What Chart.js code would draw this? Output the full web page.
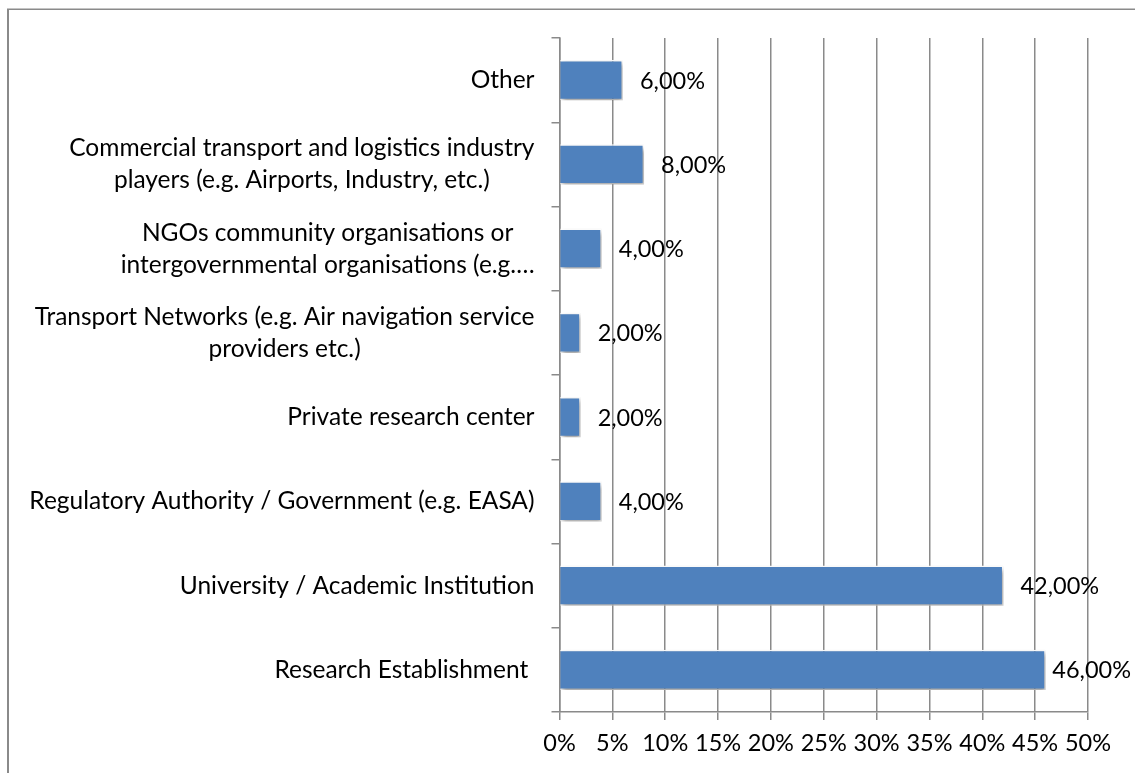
<!DOCTYPE html>
<html>
<head>
<meta charset="utf-8">
<script src="https://cdn.jsdelivr.net/npm/chart.js@4.4.1/dist/chart.umd.min.js"></script>
<style>
  html, body { margin: 0; padding: 0; background: #fff; }
  #wrap { position: relative; width: 1135px; height: 773px; }
</style>
</head>
<body>
<div id="wrap"><canvas id="c" width="1135" height="773"></canvas></div>
<script>
// ---- data ----
const categories = [
  ["Other"],
  ["Commercial transport and logistics industry", "players (e.g. Airports, Industry, etc.)"],
  ["NGOs community organisations or", "intergovernmental organisations (e.g.…"],
  ["Transport Networks (e.g. Air navigation service", "providers etc.)"],
  ["Private research center"],
  ["Regulatory Authority / Government (e.g. EASA)"],
  ["University / Academic Institution"],
  ["Research Establishment "]
];
const shares = [6, 8, 4, 2, 2, 4, 42, 46];
const dataLabels = ["6,00%", "8,00%", "4,00%", "2,00%", "2,00%", "4,00%", "42,00%", "46,00%"];
const xTickLabels = ["0%", "5%", "10%", "15%", "20%", "25%", "30%", "35%", "40%", "45%", "50%"];

const FONT = "Lato, 'Liberation Sans', sans-serif";
const CAT_SIZE = 24.5;
const NUM_SIZE = 23.5;
const GRID = '#8a8a8a';

const framePlugin = {
  id: 'frame',
  beforeDraw(chart) {
    const ctx = chart.ctx;
    ctx.save();
    ctx.strokeStyle = '#8a8a8a';
    ctx.lineWidth = 2;
    ctx.beginPath();
    ctx.moveTo(8, 9); ctx.lineTo(8, 773);
    ctx.stroke();
    ctx.lineWidth = 1.5;
    ctx.beginPath();
    ctx.moveTo(7, 9.25); ctx.lineTo(1135, 9.25);
    ctx.stroke();
    ctx.restore();
  }
};

const shadowPlugin = {
  id: 'barShadow',
  beforeDatasetDraw(chart) {
    const ctx = chart.ctx;
    ctx.save();
    ctx.shadowColor = 'rgba(0,0,0,0.38)';
    ctx.shadowBlur = 5;
    ctx.shadowOffsetX = 2;
    ctx.shadowOffsetY = 3;
  },
  afterDatasetDraw(chart) {
    chart.ctx.restore();
  }
};

const labelPlugin = {
  id: 'labels',
  afterDatasetsDraw(chart) {
    const ctx = chart.ctx;
    const yScale = chart.scales.y;
    const meta = chart.getDatasetMeta(0);
    ctx.save();
    ctx.fillStyle = '#000';
    ctx.textBaseline = 'middle';
    ctx.font = CAT_SIZE + 'px ' + FONT;
    const rightEdge = yScale.right - 25;
    const lineH = 32;
    categories.forEach((lines, i) => {
      const cy = yScale.getPixelForValue(i);
      const w = Math.max(...lines.map(l => ctx.measureText(l).width));
      const cx = rightEdge - w / 2;
      ctx.textAlign = 'center';
      lines.forEach((l, j) => {
        const y = cy + (j - (lines.length - 1) / 2) * lineH;
        ctx.fillText(l, cx, y);
      });
    });
    ctx.font = NUM_SIZE + 'px ' + FONT;
    ctx.textAlign = 'left';
    meta.data.forEach((bar, i) => {
      const t = dataLabels[i];
      const w = ctx.measureText(t).width;
      let x = bar.x + 17;
      if (x + w > chart.width - 4) x = chart.width - 4 - w;
      ctx.fillText(t, x, bar.y + 1);
    });
    ctx.restore();
  }
};

new Chart(document.getElementById('c'), {
  type: 'bar',
  data: {
    labels: categories,
    datasets: [{
      data: shares,
      backgroundColor: '#4F81BD',
      borderColor: '#ffffff',
      borderWidth: 1.5,
      barPercentage: 0.48,
      categoryPercentage: 1.0
    }]
  },
  options: {
    indexAxis: 'y',
    responsive: false,
    animation: false,
    events: [],
    layout: { padding: { left: 0, right: 47, top: 38, bottom: 0 } },
    plugins: { legend: { display: false }, tooltip: { enabled: false } },
    scales: {
      x: {
        min: 0, max: 50,
        ticks: {
          stepSize: 5,
          color: '#000',
          font: { family: FONT, size: NUM_SIZE },
          padding: 9,
          maxRotation: 0,
          autoSkip: false,
          callback: (v, i) => xTickLabels[i]
        },
        grid: { color: GRID, lineWidth: 1.5, tickLength: 8, drawTicks: true },
        border: { display: true, color: GRID, width: 1.5 },
        afterFit(scale) { scale.height = 61; }
      },
      y: {
        ticks: { display: false },
        grid: { offset: true, drawOnChartArea: false, color: GRID, lineWidth: 1.5, tickLength: 8 },
        border: { display: true, color: GRID, width: 1.5 },
        afterFit(scale) { scale.width = 559.5; }
      }
    }
  },
  plugins: [framePlugin, shadowPlugin, labelPlugin]
});
</script>
</body>
</html>
